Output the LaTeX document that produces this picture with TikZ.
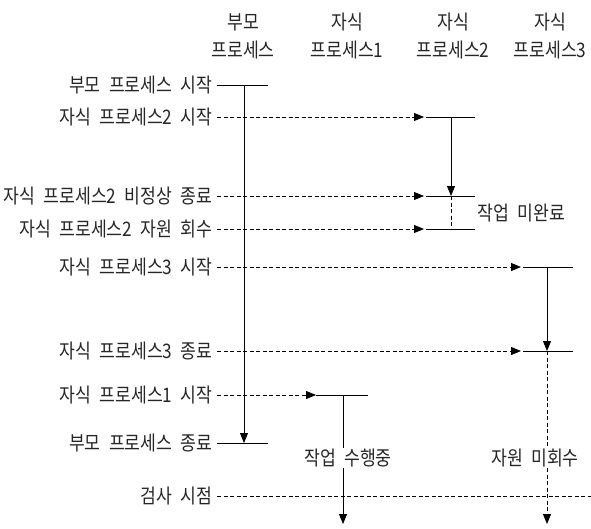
\documentclass[tikz,border=0pt]{standalone}
\usepackage{fontspec}
\setmainfont{Noto Sans CJK KR}[FakeStretch=0.86,WordSpace=2.2]
\usetikzlibrary{arrows.meta}
\begin{document}
\begin{tikzpicture}[x=1pt,y=-1pt,line width=0.8pt,
  lbl/.style={anchor=east,inner sep=0pt,font=\fontsize{20}{22}\selectfont,text=black!85},
  note/.style={inner sep=1pt,font=\fontsize{20}{22}\selectfont,text=black!85,fill=white},
  hdr/.style={align=center,inner sep=0pt,font=\fontsize{20}{28}\selectfont,text=black!85},
  tip/.style={-{Triangle[length=10pt,width=8pt]}},
  dsh/.style={dash pattern=on 4pt off 2.5pt}]
\useasboundingbox (0,0) rectangle (591,528);
% headers
\node[hdr] (h0) at (243,36) {부모\\프로세스};
\node[hdr] (h1) at (347,36) {자식\\프로세스1};
\node[hdr] (h2) at (453,36) {자식\\프로세스2};
\node[hdr] (h3) at (550,36) {자식\\프로세스3};
% row labels
\node[lbl] (r1) at (213,85) {부모 프로세스 시작};
\node[lbl] (r2) at (213,117) {자식 프로세스2 시작};
\node[lbl] (r3) at (213,196) {자식 프로세스2 비정상 종료};
\node[lbl] (r4) at (213,229) {자식 프로세스2 자원 회수};
\node[lbl] (r5) at (213,267) {자식 프로세스3 시작};
\node[lbl] (r6) at (213,351) {자식 프로세스3 종료};
\node[lbl] (r7) at (213,395) {자식 프로세스1 시작};
\node[lbl] (r8) at (213,443) {부모 프로세스 종료};
\node[lbl] (r9) at (213,496) {검사 시점};
% coordinates
\coordinate (pa) at (244,85);
\coordinate (pb) at (244,443);
\coordinate (pr1) at (268,85);
\coordinate (pr8) at (268,443);
\coordinate (a2) at (424,117);
\coordinate (a3) at (424,196);
\coordinate (a4) at (424,229);
\coordinate (e2) at (475,117);
\coordinate (e3) at (475,196);
\coordinate (e4) at (475,229);
\coordinate (v2a) at (451,117);
\coordinate (v2b) at (451,196);
\coordinate (v2c) at (451,229);
\coordinate (a5) at (521,267);
\coordinate (a6) at (521,351);
\coordinate (e5) at (573,267);
\coordinate (e6) at (573,351);
\coordinate (v3a) at (547,267);
\coordinate (v3b) at (547,351);
\coordinate (v3c) at (547,524);
\coordinate (a7) at (316,395);
\coordinate (e7) at (368,395);
\coordinate (v1a) at (343,395);
\coordinate (v1c) at (343,524);
\coordinate (c9) at (591,496);
% parent
\draw ([xshift=4pt]r1.east) -- (pr1);
\draw ([xshift=4pt]r8.east) -- (pr8);
\draw[tip] (pa) -- (pb);
% dashed calls
\draw[dsh,tip] ([xshift=4pt]r2.east) -- (a2);
\draw[dsh,tip] ([xshift=4pt]r3.east) -- (a3);
\draw[dsh,tip] ([xshift=4pt]r4.east) -- (a4);
\draw[dsh,tip] ([xshift=4pt]r5.east) -- (a5);
\draw[dsh,tip] ([xshift=4pt]r6.east) -- (a6);
\draw[dsh,tip] ([xshift=4pt]r7.east) -- (a7);
\draw[dsh] ([xshift=4pt]r9.east) -- (c9);
% child 2
\draw ([xshift=2pt]a2) -- (e2);
\draw ([xshift=2pt]a3) -- (e3);
\draw ([xshift=2pt]a4) -- (e4);
\draw[tip] (v2a) -- (v2b);
\draw[dsh] (v2b) -- (v2c);
\node[anchor=west,inner sep=1pt,font=\fontsize{20}{22}\selectfont,text=black!85] (n2) at (476,213) {작업 미완료};
% child 3
\draw ([xshift=2pt]a5) -- (e5);
\draw ([xshift=2pt]a6) -- (e6);
\draw[tip] (v3a) -- (v3b);
\draw[dsh,tip] (v3b) -- (v3c);
\node[note] (n3) at (535,458) {자원 미회수};
% child 1
\draw (a7) -- (e7);
\draw[tip] (v1a) -- (v1c);
\node[note] (n1) at (348,458) {작업 수행중};
\end{tikzpicture}
\end{document}
